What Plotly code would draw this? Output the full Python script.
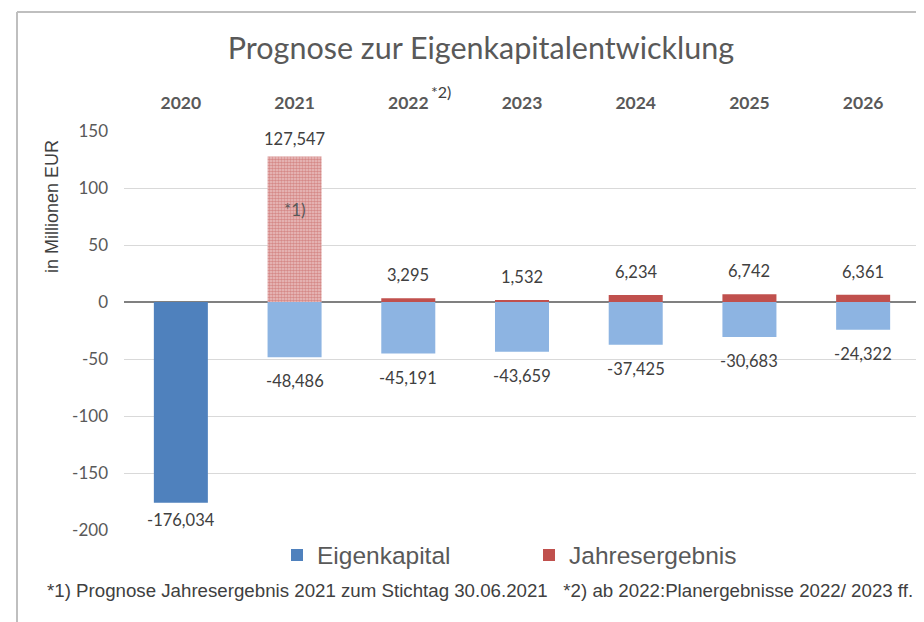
import plotly.graph_objects as go

years = ["2020", "2021", "2022", "2023", "2024", "2025", "2026"]
eigenkapital = [-176.034, -48.486, -45.191, -43.659, -37.425, -30.683, -24.322]
jahres_years = ["2021", "2022", "2023", "2024", "2025", "2026"]
jahresergebnis = [127.547, 3.295, 1.532, 6.234, 6.742, 6.361]
ek_colors = ["#4F81BD"] + ["#8DB4E2"] * 6
y_ticks = [150, 100, 50, 0, -50, -100, -150, -200]

# layout helpers (reference pixel coordinates -> paper coords)
OFF = 8
L, R, T, B = 124, 920, 131, 530
def px(x):
    return (x - L) / (R - L)
def py(y):
    return (B - y) / (B - T)

def de(v):
    return f"{v:,.3f}".replace(",", "X").replace(".", ",").replace("X", ".")

fig = go.Figure()
fig.add_trace(go.Bar(x=years, y=eigenkapital, name="Eigenkapital",
                     marker=dict(color=ek_colors, line=dict(width=0)),
                     legendgroup="ek"))
# 2021 forecast (patterned) – same series as Jahresergebnis
fig.add_trace(go.Bar(x=jahres_years[:1], y=jahresergebnis[:1], name="Jahresergebnis",
                     marker=dict(color="white", line=dict(width=0),
                                 pattern=dict(shape=".", fgcolor="#C0504D", bgcolor="#EBC3C2",
                                              size=3, solidity=0.6, fillmode="overlay")),
                     legendgroup="je", showlegend=False))
fig.add_trace(go.Bar(x=jahres_years[1:], y=jahresergebnis[1:], name="Jahresergebnis",
                     marker=dict(color="#C0504D", line=dict(width=0)),
                     legendgroup="je"))

annotations = []
lab_font = dict(family="Lato, Open Sans, sans-serif", size=16.5, color="#404040")
neg_gap = {"2020": 5}
pos_gap = {"2021": 6}
for x, v in zip(years, eigenkapital):
    annotations.append(dict(x=years.index(x), y=v, text=de(v), showarrow=False, yanchor="top",
                            yshift=-neg_gap.get(x, 12), font=lab_font))
for x, v in zip(jahres_years, jahresergebnis):
    annotations.append(dict(x=years.index(x), y=v, text=de(v), showarrow=False, yanchor="bottom",
                            yshift=pos_gap.get(x, 11), font=lab_font))
annotations += [
    dict(x=years.index("2021"), y=81, text="*1)", showarrow=False,
         font=dict(family="Lato, sans-serif", size=17, color="#595959")),
    dict(xref="paper", yref="paper", x=px(441), y=py(92), xanchor="center", yanchor="middle",
         text="*2)", showarrow=False, font=dict(family="Lato, sans-serif", size=16, color="#404040")),
    dict(xref="paper", yref="paper", x=px(52), y=py(207), xanchor="center", yanchor="middle",
         text="in Millionen EUR", textangle=-90, showarrow=False,
         font=dict(family="Liberation Sans, Arial, sans-serif", size=18, color="#404040")),
    dict(xref="paper", yref="paper", x=px(480), y=py(590), xanchor="center", yanchor="middle",
         text="*1) Prognose Jahresergebnis 2021 zum Stichtag 30.06.2021   *2) ab 2022:Planergebnisse 2022/ 2023 ff.",
         showarrow=False, font=dict(family="Liberation Sans Narrow, Liberation Sans, Arial, sans-serif",
                                    size=18.7, color="#404040")),
]

W, H = 924 - OFF, 622 - OFF
fig.update_layout(
    width=W, height=H,
    margin=dict(l=L - OFF, r=W - (R - OFF), t=T - OFF, b=H - (B - OFF), pad=0),
    paper_bgcolor="white", plot_bgcolor="white",
    barmode="relative", bargap=0.525,
    title=dict(text="Prognose zur Eigenkapitalentwicklung", x=(481 - OFF) / W, xanchor="center",
               y=1 - (48 - OFF) / H, yanchor="middle",
               font=dict(family="Lato, Open Sans, sans-serif", size=30.5, color="#595959")),
    xaxis=dict(side="top", type="category", categoryorder="array", categoryarray=years,
               range=[-0.5, len(years) - 0.5],
               showgrid=False, showline=False, ticks="",
               tickfont=dict(family="Lato, Open Sans, sans-serif", size=17.5, color="#595959", weight="bold"),
               ticklabelstandoff=18),
    yaxis=dict(range=[-200, 150], tickvals=y_ticks, ticktext=[str(t) for t in y_ticks],
               showgrid=True, gridcolor="#D9D9D9", gridwidth=1,
               zeroline=True, zerolinecolor="#808080", zerolinewidth=2,
               showline=False, ticks="",
               tickfont=dict(family="Lato, Open Sans, sans-serif", size=17, color="#595959"),
               ticklabelstandoff=15),
    legend=dict(orientation="h", x=px(277), xanchor="left", y=py(555), yanchor="middle",
                font=dict(family="Liberation Sans, Arial, sans-serif", size=24.5, color="#595959"),
                entrywidth=207, itemwidth=30, traceorder="normal"),
    annotations=annotations,
    shapes=[
        dict(type="line", xref="paper", yref="paper", x0=px(17), x1=px(930),
             y0=py(12), y1=py(12), line=dict(color="#BFBFBF", width=2)),
        dict(type="line", xref="paper", yref="paper", x0=px(17), x1=px(17),
             y0=py(12), y1=py(640), line=dict(color="#BFBFBF", width=2)),
    ],
)

fig.write_html("out.html")
